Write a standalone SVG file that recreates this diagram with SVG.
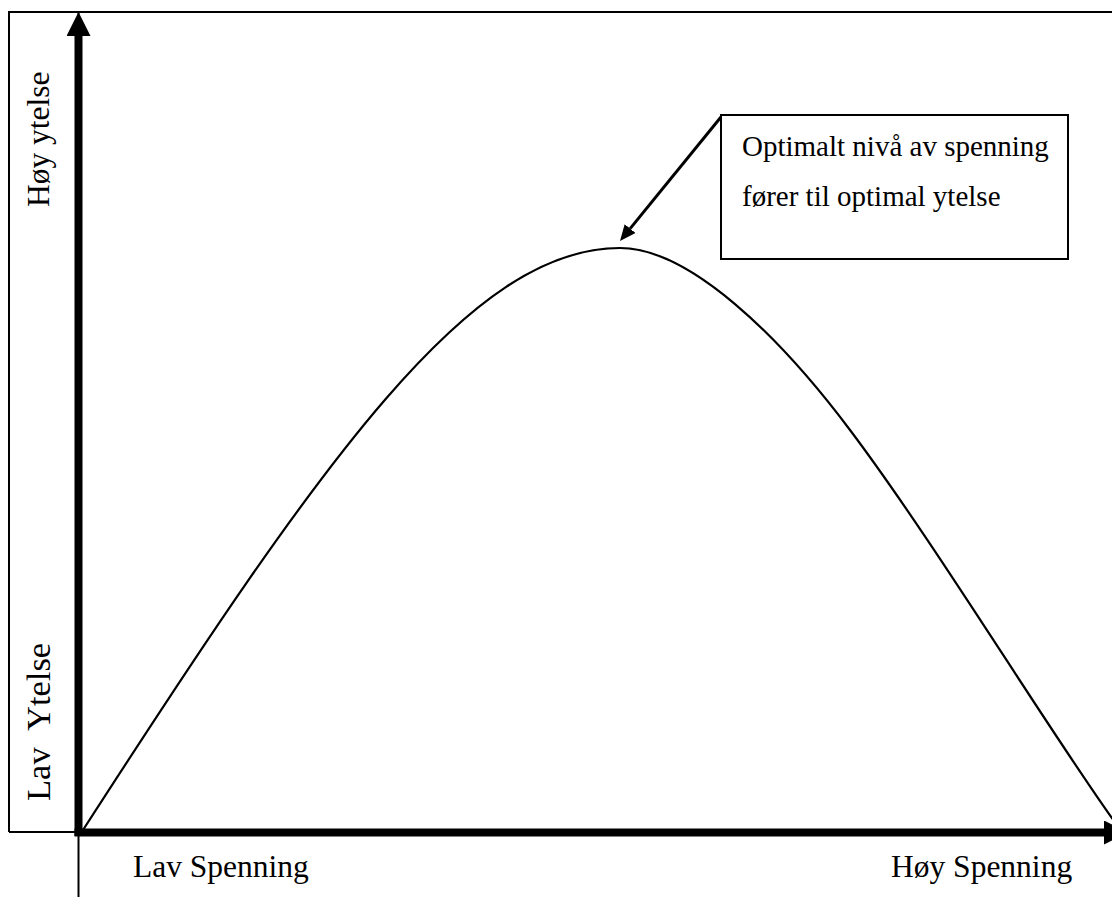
<svg xmlns="http://www.w3.org/2000/svg" width="1112" height="897" viewBox="0 0 1112 897">
  <style>
    .thin { fill: none; stroke: #000; stroke-width: 2; }
    .axis { fill: none; stroke: #000; stroke-width: 8; }
    .curve { fill: none; stroke: #000; stroke-width: 2.2; stroke-linejoin: round; }
    .lbl { font-family: "Liberation Serif", "Times New Roman", serif; font-size: 31.5px; fill: #000; }
    .lbl-wide { font-size: 34.5px; word-spacing: 9px; }
    .box-text { font-family: "Liberation Serif", "Times New Roman", serif; font-size: 29px; fill: #000; }
  </style>
  <defs>
    <marker id="bigArrow" viewBox="0 0 24 24" refX="0" refY="12" markerWidth="24" markerHeight="24" markerUnits="userSpaceOnUse" orient="auto">
      <path d="M0,0 L24,12 L0,24 Z" fill="#000"/>
    </marker>
    <marker id="smallArrow" viewBox="0 0 16 14" refX="0" refY="7" markerWidth="16" markerHeight="14" markerUnits="userSpaceOnUse" orient="auto">
      <path d="M0,0 L16,7 L0,14 Z" fill="#000"/>
    </marker>
  </defs>
  <rect width="1112" height="897" fill="#fff"/>

  <g id="frame">
    <path class="thin" d="M9,832 L9,12 L1112,12"/>
    <path class="thin" d="M9,832 L78,832"/>
    <line class="thin" x1="78.5" y1="12" x2="78.5" y2="897" stroke-width="1.5"/>
  </g>

  <g id="y-labels">
    <text class="lbl" transform="translate(49,207) rotate(-90)">Høy ytelse</text>
    <text class="lbl lbl-wide" transform="translate(49.5,801) rotate(-90)">Lav Ytelse</text>
  </g>

  <g id="x-labels">
    <text class="lbl" x="133" y="877">Lav Spenning</text>
    <text class="lbl" x="891" y="877">Høy Spenning</text>
  </g>

  <g id="curve">
    <path class="curve" d="M83,830 C323,458 470,248 620,248 C690,248 780,336.9 850,430 C935,543 1044,723 1114,821"/>
  </g>

  <g id="callout">
    <rect class="thin" x="721" y="115" width="347" height="144"/>
    <text class="box-text" x="742" y="156">Optimalt nivå av spenning</text>
    <text class="box-text" x="742" y="206">fører til optimal ytelse</text>
  </g>

  <g id="connectors">
    <line class="axis" x1="78.5" y1="836" x2="78.5" y2="36" marker-end="url(#bigArrow)"/>
    <line class="axis" x1="74.5" y1="832.5" x2="1104" y2="832.5" marker-end="url(#bigArrow)"/>
    <line x1="721" y1="117" x2="630.1" y2="228.6" stroke="#000" stroke-width="3" marker-end="url(#smallArrow)"/>
  </g>
</svg>
